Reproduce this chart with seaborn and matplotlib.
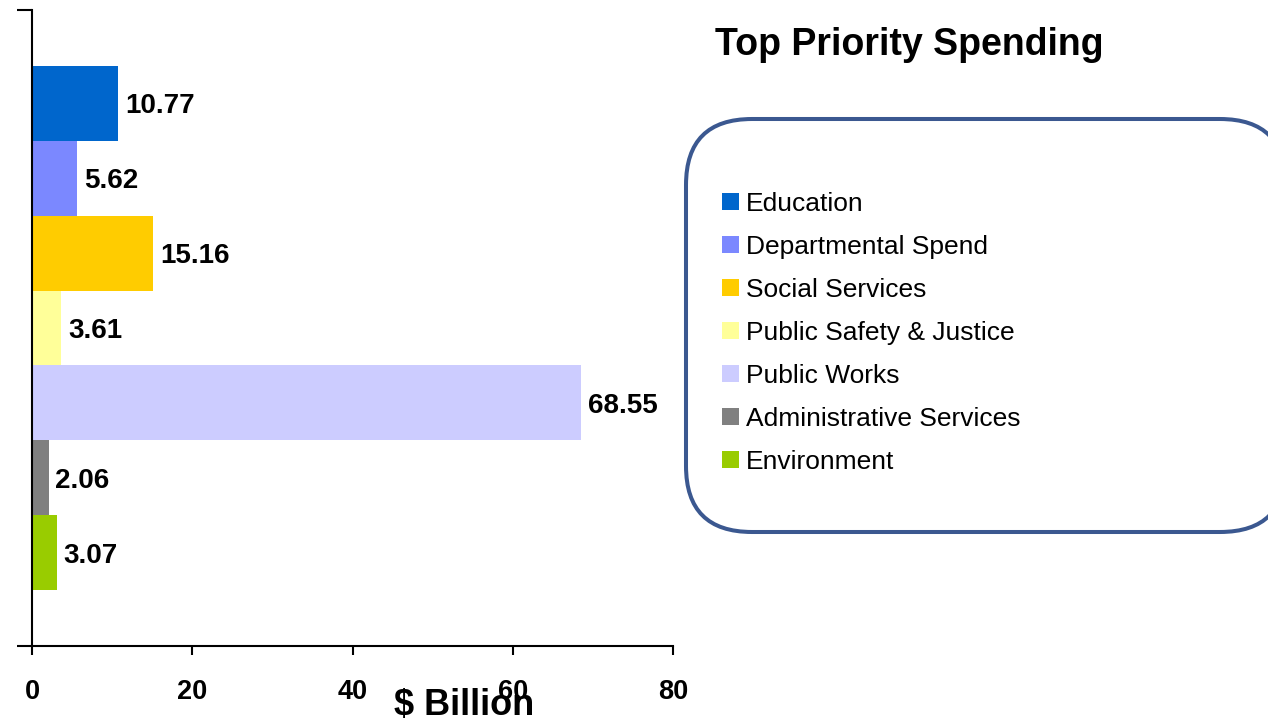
import matplotlib
matplotlib.use("Agg")
import matplotlib.pyplot as plt
from matplotlib.patches import FancyBboxPatch, Patch
import pandas as pd
import seaborn as sns

# Spending by priority area, $ billion
categories = [
    "Education",
    "Departmental Spend",
    "Social Services",
    "Public Safety & Justice",
    "Public Works",
    "Administrative Services",
    "Environment",
]
values = [10.77, 5.62, 15.16, 3.61, 68.55, 2.06, 3.07]
colors = ["#0066CC", "#7B88FF", "#FFCC00", "#FFFF99", "#CCCCFF", "#808080", "#99CC00"]
x_ticks = [0, 20, 40, 60, 80]

sns.set_theme(style="white")
plt.rcParams["font.family"] = ["Liberation Sans", "DejaVu Sans"]
plt.rcParams["text.color"] = "black"
plt.rcParams["axes.labelcolor"] = "black"
plt.rcParams["xtick.color"] = "black"
plt.rcParams["ytick.color"] = "black"

W, H = 1268, 722

df = pd.DataFrame({"group": ["Spending"] * len(categories),
                   "category": categories,
                   "value": values})

fig = plt.figure(figsize=(W / 100, H / 100), dpi=100)

# Full-figure overlay in pixel units, used for the rounded legend frame
bg = fig.add_axes([0, 0, 1, 1], zorder=0)
bg.set_xlim(0, W)
bg.set_ylim(H, 0)
bg.axis("off")
frame = FancyBboxPatch((686, 119), 1286 - 686, 532 - 119,
                       boxstyle="round,pad=0,rounding_size=66",
                       facecolor="white", edgecolor="#3B5890", linewidth=2.9)
bg.add_patch(frame)

ax = fig.add_axes([32 / W, 1 - 646 / H, (673 - 32) / W, (646 - 10) / H], zorder=1)
ax.patch.set_alpha(0)

sns.barplot(data=df, x="value", y="group", hue="category", hue_order=categories,
            palette=colors, orient="h", width=0.824, dodge=True, legend=False,
            saturation=1, ax=ax, linewidth=0)

for cont in ax.containers:
    labels = ax.bar_label(cont, fmt="%.2f", padding=5, fontsize=20,
                          fontweight="bold", color="black")
    for t in labels:
        t.xyann = (5, -2.2)

ax.set_xlim(0, 80)
ax.set_ylim(0.5, -0.5)
ax.set_xticks(x_ticks)
ax.set_xticklabels([str(t) for t in x_ticks], fontsize=19.5, fontweight="bold")
ax.set_yticks([-0.5, 0.5])
ax.set_yticklabels([])
ax.tick_params(axis="x", direction="out", length=6.5, width=1.5, color="black",
               pad=17, bottom=True)
ax.tick_params(axis="y", direction="out", length=11, width=1.5, color="black",
               left=True)
ax.set_xlabel("")
ax.set_ylabel("")
for side in ["top", "right"]:
    ax.spines[side].set_visible(False)
for side in ["left", "bottom"]:
    ax.spines[side].set_color("black")
    ax.spines[side].set_linewidth(1.5)

fig.text(464 / W, 1 - 705 / H, "$ Billion", fontsize=26, fontweight="bold",
         ha="center", va="center")

fig.text(909 / W, 1 - 45 / H, "Top Priority Spending", fontsize=27,
         fontweight="bold", ha="center", va="center")

handles = [Patch(facecolor=c, edgecolor="none") for c in colors]
leg = fig.legend(handles, categories, loc="upper left",
                 bbox_to_anchor=(722 / W, 1 - 192 / H), frameon=False,
                 fontsize=19, handlelength=0.64, handleheight=0.64,
                 handletextpad=0.28, labelspacing=0.72, borderpad=0,
                 borderaxespad=0)
leg.set_zorder(2)

fig.savefig("out.png", dpi=100, facecolor="white")
